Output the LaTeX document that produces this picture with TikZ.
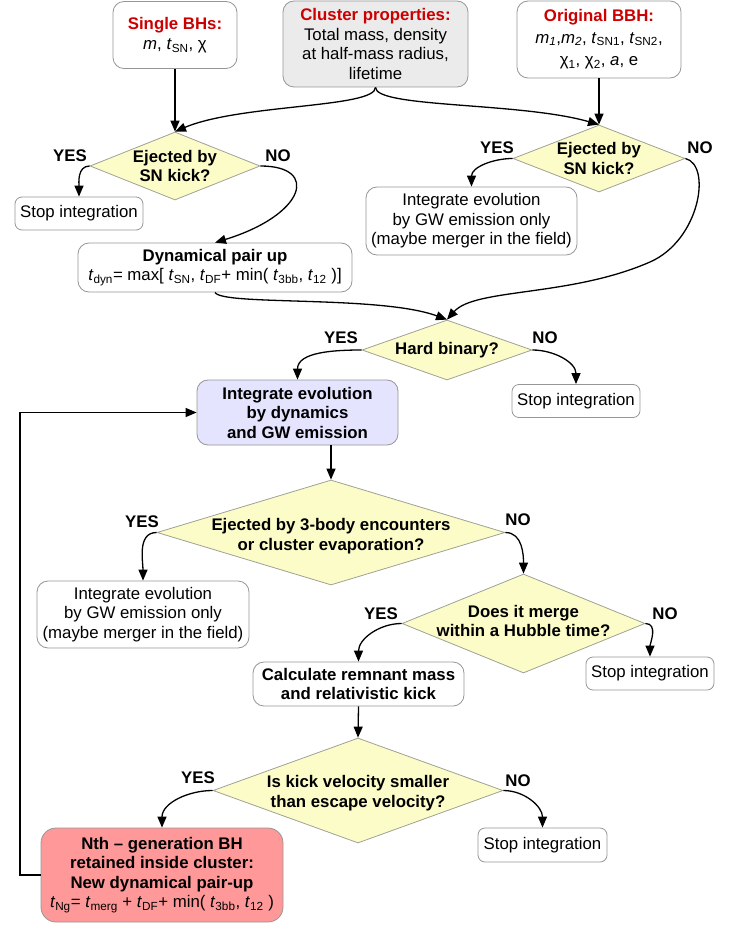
\documentclass[tikz,border=0pt]{standalone}
\usepackage{fontspec}
\setmainfont{Liberation Sans}
\usetikzlibrary{shapes.geometric,arrows.meta}
\definecolor{bordergray}{RGB}{150,150,150}
\definecolor{diafill}{RGB}{252,252,200}
\definecolor{diaborder}{RGB}{160,160,150}
\definecolor{clfill}{RGB}{235,235,235}
\definecolor{lavfill}{RGB}{228,228,255}
\definecolor{salfill}{RGB}{255,153,153}
\definecolor{redtxt}{RGB}{204,0,0}
\newcommand{\sbs}[1]{\textsubscript{#1}}
\tikzset{
  box/.style={draw=bordergray, fill=white, rounded corners=11pt, align=center, inner sep=0pt, line width=0.8pt},
  stopbox/.style={box, rounded corners=7pt, minimum width=128pt, minimum height=33pt},
  dia/.style={diamond, draw=diaborder, fill=diafill, inner sep=0pt, line width=0.8pt},
  diatext/.style={align=center, font=\bfseries, inner sep=0pt},
  lbl/.style={font=\bfseries, inner sep=0pt},
  conn/.style={line width=1.3pt, -{Triangle[length=11pt,width=9pt]}},
}
\begin{document}
\begin{tikzpicture}[x=1pt,y=-1pt, every node/.style={font=\fontsize{16.8}{19.5}\selectfont}]
\useasboundingbox (0,0) rectangle (736,925);
\tikzset{every node/.append style={}}
\fontsize{16.8}{19.5}\selectfont
% top boxes
\node[box, minimum width=124pt, minimum height=67pt] (sb) at (175,35)
  {\textcolor{redtxt}{\textbf{Single BHs:}}\\[1pt] \textit{m}, \textit{t}\sbs{SN}, χ};
\node[box, fill=clfill, minimum width=185pt, minimum height=86pt] (cl) at (375.5,44)
  {\textcolor{redtxt}{\textbf{Cluster properties:}}\\ Total mass, density\\ at half-mass radius,\\ lifetime};
\node[box, minimum width=164pt, minimum height=77pt] (ob) at (599,39.5)
  {\textcolor{redtxt}{\textbf{Original BBH:}}\\[2pt] \textit{m\sbs{1}},\textit{m\sbs{2}}, \textit{t}\sbs{SN1}, \textit{t}\sbs{SN2},\\[3pt] χ\sbs{1}, χ\sbs{2}, \textit{a}, e};
% diamonds
\node[dia, minimum width=170pt, minimum height=68pt] (d1) at (175,166) {};
\node[diatext] (d1t) at (d1) {Ejected by\\SN kick?};
\node[dia, minimum width=172pt, minimum height=67pt] (d2) at (599,158.5) {};
\node[diatext] (d2t) at (d2) {Ejected by\\SN kick?};
\node[dia, minimum width=170pt, minimum height=60pt] (hb) at (447,350) {};
\node[diatext] (hbt) at (hb) {Hard binary?};
\node[dia, minimum width=348pt, minimum height=105pt] (d3) at (331,532.5) {};
\node[diatext] (d3t) at (331,536) {Ejected by 3-body encounters\\or cluster evaporation?};
\node[dia, minimum width=243pt, minimum height=99pt] (d4) at (523.5,623.5) {};
\node[diatext] (d4t) at (523.5,621) {Does it merge\\within a Hubble time?};
\node[dia, minimum width=290pt, minimum height=105pt] (d5) at (358,790.5) {};
\node[diatext] (d5t) at (358,793) {Is kick velocity smaller\\than escape velocity?};
% boxes
\node[stopbox] (st1) at (79,213.5) {Stop integration};
\node[box, minimum width=274pt, minimum height=49pt] (dp) at (215,267.5)
  {\textbf{Dynamical pair up}\\ \textit{t}\sbs{dyn}= max[ \textit{t}\sbs{SN}, \textit{t}\sbs{DF}+ min( \textit{t}\sbs{3bb}, \textit{t}\sbs{12} )]};
\node[box, minimum width=211pt, minimum height=68pt] (in1) at (471.5,221)
  {Integrate evolution\\ by GW emission only\\ (maybe merger in the field)};
\node[stopbox] (st2) at (576,401) {Stop integration};
\node[box, fill=lavfill, minimum width=201pt, minimum height=65pt] (idyn) at (297.5,412.5)
  {\textbf{Integrate evolution}\\ \textbf{by dynamics}\\ \textbf{and GW emission}};
\node[box, minimum width=212pt, minimum height=67pt] (in2) at (143,614.5)
  {Integrate evolution\\ by GW emission only\\ (maybe merger in the field)};
\node[stopbox] (st3) at (650,673.5) {Stop integration};
\node[box, minimum width=211pt, minimum height=44pt] (calc) at (358.5,684)
  {\textbf{Calculate remnant mass}\\ \textbf{and relativistic kick}};
\node[stopbox, minimum width=129pt, minimum height=34pt] (st4) at (542.5,845) {Stop integration};
\node[box, fill=salfill, rounded corners=15pt, minimum width=242pt, minimum height=94pt] (nth) at (162,875)
  {\textbf{Nth – generation BH}\\ \textbf{retained inside cluster:}\\ \textbf{New dynamical pair-up}\\ \textit{t}\sbs{Ng}= \textit{t}\sbs{merg} + \textit{t}\sbs{DF}+ min( \textit{t}\sbs{3bb}, \textit{t}\sbs{12} )};
% labels
\node[lbl] (l1y) at (70,156) {YES};
\node[lbl] (l1n) at (278,156) {NO};
\node[lbl] (l2y) at (497,148) {YES};
\node[lbl] (l2n) at (700,148) {NO};
\node[lbl] (l3y) at (341,338) {YES};
\node[lbl] (l3n) at (545,338) {NO};
\node[lbl] (l4y) at (142,522) {YES};
\node[lbl] (l4n) at (518,520) {NO};
\node[lbl] (l5y) at (381,614) {YES};
\node[lbl] (l5n) at (665,614) {NO};
\node[lbl] (l6y) at (198,778) {YES};
\node[lbl] (l6n) at (518,781) {NO};
% connectors
\draw[conn] (sb.south) -- (d1.north);
\draw[conn] (cl.south) .. controls (375.5,108) and (240,104) .. (d1.north);
\draw[conn] (cl.south) .. controls (375.5,108) and (520,102) .. (d2.north);
\draw[conn] (ob.south) -- (d2.north);
\draw[conn] (d1.west) to[out=180,in=90] (st1.north);
\draw[conn] (d1.east) .. controls (320,166) and (305,215) .. (dp.north);
\draw[conn] (d2.west) to[out=180,in=90] (in1.north);
\coordinate (bend) at (650,262);
\draw[conn] (d2.east) .. controls (712,165) and (700,240) .. (bend) .. controls (570,297) and (475,288) .. (hb.north);
\draw[conn] (dp.south) .. controls (222,306) and (380,295) .. (hb.north);
\draw[conn] (hb.west) to[out=180,in=90] (idyn.north);
\draw[conn] (hb.east) to[out=0,in=90] (st2.north);
\draw[conn] (d3.north |- idyn.south) -- (d3.north);
\draw[conn] (d3.west) to[out=180,in=90] (in2.north);
\draw[conn] (d3.east) to[out=0,in=90] (d4.north);
\draw[conn] (d4.west) to[out=180,in=90] (calc.north);
\draw[conn] (d4.east) to[out=0,in=90] (st3.north);
\draw[conn] (calc.south) -- (d5.north);
\draw[conn] (d5.west) to[out=180,in=90] (nth.north);
\draw[conn] (d5.east) to[out=0,in=90] (st4.north);
\coordinate (fb) at (20,875);
\draw[conn] (nth.west) -- (fb) |- (idyn.west);
\end{tikzpicture}
\end{document}
